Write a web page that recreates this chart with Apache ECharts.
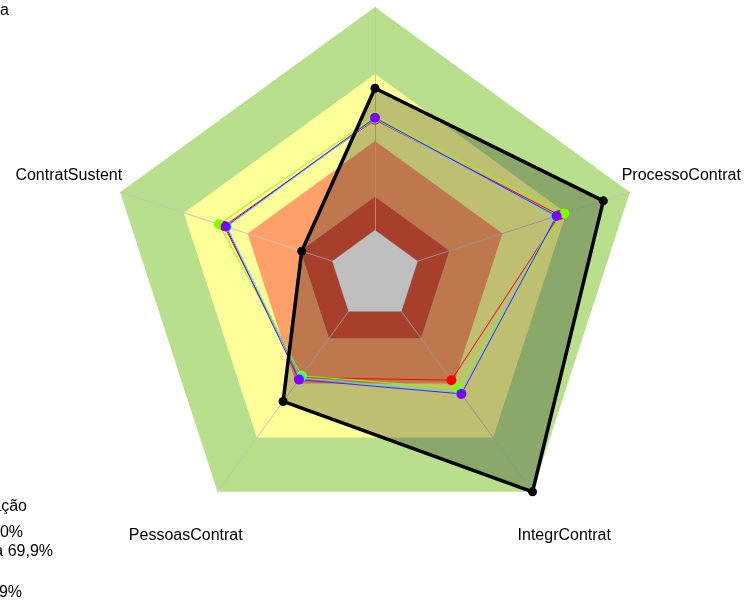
<!DOCTYPE html>
<html>
<head>
<meta charset="utf-8">
<script src="https://cdn.jsdelivr.net/npm/echarts@6/dist/echarts.min.js"></script>
<style>
  html, body { margin: 0; padding: 0; background: #fff; }
  #chart { width: 748px; height: 605px; }
</style>
</head>
<body>
<div id="chart"></div>
<script>
// eixos (ordem do ECharts: topo e depois sentido anti-horario)
const indicatorNames = ['RiscosContrat', 'ContratSustent', 'PessoasContrat', 'IntegrContrat', 'ProcessoContrat'];
const axisMin = -20;
const axisMax = 100;

// faixas de classificacao (fundo)
const bandLevels = [100, 70, 40, 15];
const bandColors = ['#B8E08C', '#FFFF99', '#FFA068', '#E05538'];
const centerLevel = 0;

// series
const seriesNames = ['Organizacao', 'Grupo 1', 'Grupo 2', 'Grupo 3', 'Grupo 4'];
const orgValues = [63.6, 14.5, 50, 100, 87.5];
const redValues = [49.5, 51, 36.8, 38.2, 66.8];
const greenValues = [51, 53.5, 35.8, 42.7, 69.1];
const cyanValues = [50, 49.8, 36.8, 45.5, 65];
const purpleValues = [50.4, 50.3, 37.9, 45.8, 65.5];
const groupColors = ['#FF0000', '#80FF00', '#00FFFF', '#8000FF'];

// legenda (cortada na margem esquerda)
const legendLines = ['Classificação', 'Aprimorado: 70 a 100%', 'Intermediário: 40 a 69,9%', 'Inexpressivo: 0 a 14,9%'];

const font = 'Liberation Sans, Arial, sans-serif';
let myChart = echarts.init(document.getElementById('chart'));

let bandData = bandLevels.map(function (lv, i) {
  return {
    value: indicatorNames.map(function () { return lv; }),
    areaStyle: { color: bandColors[i], opacity: 1 },
    lineStyle: { width: lv === 15 ? 1 : 0, color: '#BEBEBE' },
  };
});

let groups = [redValues, greenValues, cyanValues, purpleValues].map(function (vals, i) {
  return {
    name: seriesNames[i + 1],
    type: 'radar',
    z: 5,
    symbol: 'circle',
    symbolSize: 10,
    data: [{
      value: vals,
      itemStyle: { color: groupColors[i] },
      lineStyle: { color: groupColors[i], width: 1 },
    }],
  };
});

let option = {
  animation: false,
  radar: {
    center: [375, 275],
    radius: 268,
    startAngle: 90,
    shape: 'polygon',
    nameGap: 54,
    z: 3,
    indicator: indicatorNames.map(function (n) {
      return { name: n, min: axisMin, max: axisMax };
    }),
    axisName: {
      color: '#000',
      fontSize: 16,
      fontFamily: font,
      align: 'center',
      verticalAlign: 'middle',
    },
    splitLine: { show: false },
    splitArea: { show: false },
    axisLine: { lineStyle: { color: '#C4C4C4', width: 1 } },
    axisTick: { show: false },
    axisLabel: { show: false },
  },
  series: [
    {
      name: 'faixas',
      type: 'radar',
      z: 2,
      symbol: 'none',
      silent: true,
      data: bandData,
    },
    {
      name: 'centro',
      type: 'radar',
      z: 3.5,
      symbol: 'none',
      silent: true,
      data: [{
        value: indicatorNames.map(function () { return centerLevel; }),
        areaStyle: { color: '#FFFFFF', opacity: 1 },
        lineStyle: { width: 1, color: '#BEBEBE' },
      }],
    },
    {
      name: seriesNames[0] + ' area',
      type: 'radar',
      z: 4,
      symbol: 'none',
      silent: true,
      data: [{
        value: orgValues,
        areaStyle: { color: 'rgba(0,0,0,0.25)', opacity: 1 },
        lineStyle: { width: 0 },
      }],
    },
  ].concat(groups).concat([
    {
      name: seriesNames[0],
      type: 'radar',
      z: 6,
      symbol: 'circle',
      symbolSize: 9,
      data: [{
        value: orgValues,
        itemStyle: { color: '#000' },
        lineStyle: { color: '#000', width: 3.5 },
      }],
    },
  ]),
  graphic: [
    {
      type: 'text',
      x: 9,
      y: 11,
      style: { text: 'Capacidade de gestão de contratações da empresa', align: 'right', verticalAlign: 'middle', fill: '#000', font: '16px ' + font },
    },
  ].concat(legendLines.map(function (t, i) {
    let ends = [27, 23, 53, 22];
    let ys = [507, 533, 552, 593];
    return {
      type: 'text',
      x: ends[i],
      y: ys[i],
      style: { text: t, align: 'right', verticalAlign: 'middle', fill: '#000', font: '16px ' + font },
    };
  })),
};
myChart.setOption(option);
</script>
</body>
</html>
